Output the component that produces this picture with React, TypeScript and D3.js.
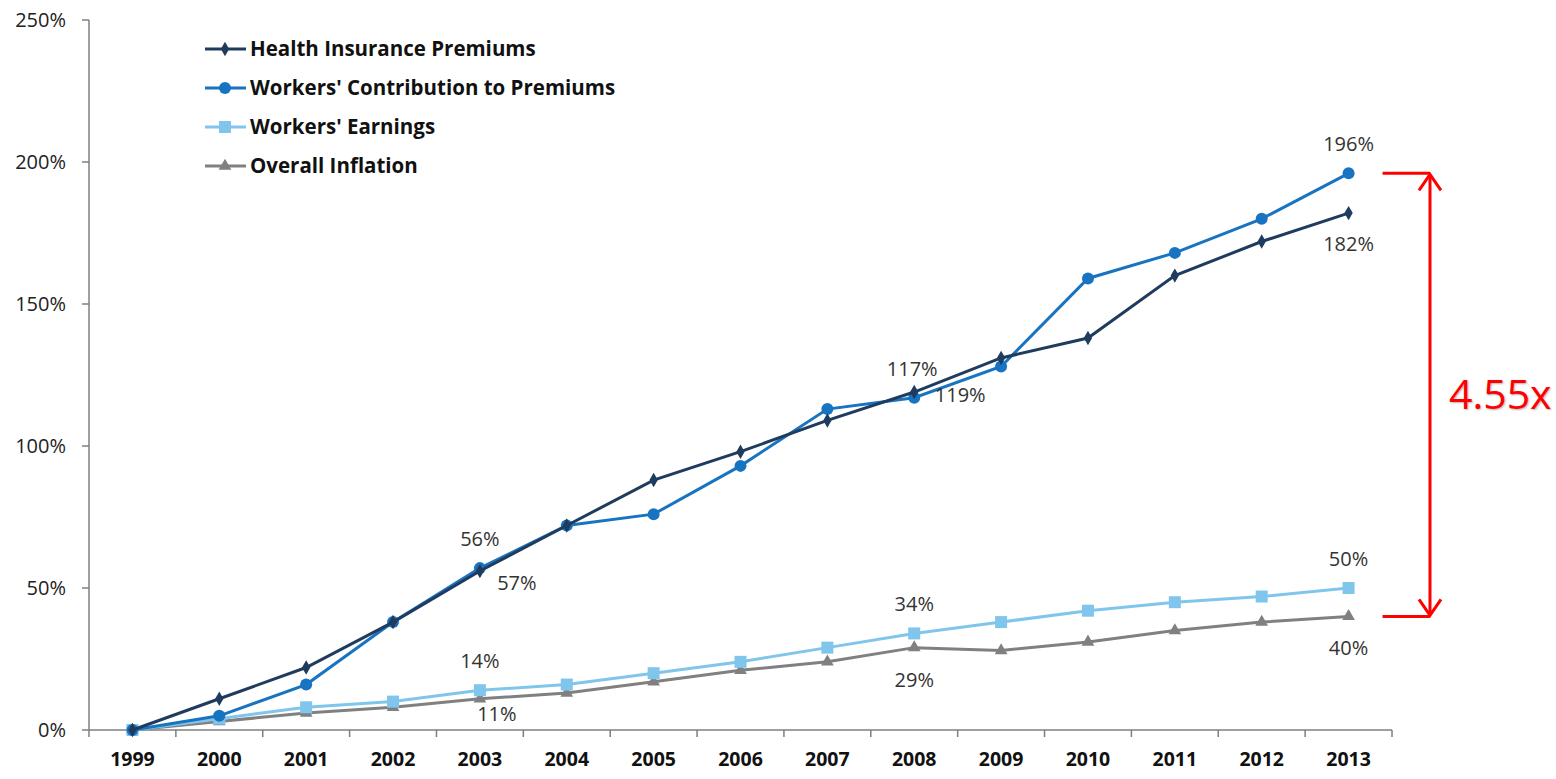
import * as d3 from 'd3';
import * as React from 'react';

const years = ['1999', '2000', '2001', '2002', '2003', '2004', '2005', '2006', '2007', '2008', '2009', '2010', '2011', '2012', '2013'];
const premiums = [0, 11, 22, 38, 56, 72, 88, 98, 109, 119, 131, 138, 160, 172, 182];
const contributions = [0, 5, 16, 38, 57, 72, 76, 93, 113, 117, 128, 159, 168, 180, 196];
const earnings = [0, 4, 8, 10, 14, 16, 20, 24, 29, 34, 38, 42, 45, 47, 50];
const inflation = [0, 3, 6, 8, 11, 13, 17, 21, 24, 29, 28, 31, 35, 38, 40];
const yTicks = [0, 50, 100, 150, 200, 250];

// which point gets a value label: [series, year, text, dx, dy]
const labels: [string, string, string, number, number][] = [
    ['contrib', '2013', '196%', 0, -22],
    ['prem', '2013', '182%', 0, 38],
    ['contrib', '2008', '117%', -2, -22],
    ['prem', '2008', '119%', 46, 10],
    ['contrib', '2003', '56%', 0, -22],
    ['contrib', '2003', '57%', 37, 22],
    ['earn', '2003', '14%', 0, -22],
    ['infl', '2003', '11%', 17, 22],
    ['earn', '2008', '34%', 0, -22],
    ['infl', '2008', '29%', 0, 39],
    ['earn', '2013', '50%', 0, -22],
    ['infl', '2013', '40%', 0, 39],
];

const series = [
    {key: 'prem', name: 'Health Insurance Premiums', values: premiums, color: '#1f3c5e', marker: 'diamond'},
    {key: 'contrib', name: "Workers' Contribution to Premiums", values: contributions, color: '#1874c1', marker: 'circle'},
    {key: 'earn', name: "Workers' Earnings", values: earnings, color: '#80c6ec', marker: 'square'},
    {key: 'infl', name: 'Overall Inflation', values: inflation, color: '#808080', marker: 'triangle'},
];

const width = 1556;
const height = 779;
const left = 89;
const right = 1392;
const top = 20;
const bottom = 730;
const font = '"Open Sans", sans-serif';

function Marker({type, x, y, color}: {type: string, x: number, y: number, color: string}) {
    if (type === 'circle') return <circle cx={x} cy={y} r={6} fill={color} />;
    if (type === 'square') return <rect x={x - 6} y={y - 6} width={12} height={12} fill={color} />;
    const sym = type === 'diamond' ? d3.symbolDiamond : d3.symbolTriangle;
    const size = type === 'diamond' ? 60 : 70;
    return <path transform={`translate(${x},${y})`} d={d3.symbol(sym, size)() || ''} fill={color} />;
}

export default function App() {
    const x = d3.scaleBand().domain(years).range([left, right]);
    const y = d3.scaleLinear().domain([0, 250]).range([bottom, top]);
    const cx = (yr: string) => (x(yr) || 0) + x.bandwidth() / 2;

    const line = d3.line<number>()
        .x((d, i) => cx(years[i]))
        .y((d) => y(d));

    const byKey: Record<string, number[]> = {};
    series.forEach((s) => { byKey[s.key] = s.values; });

    const last = years[years.length - 1];
    const topY = y(contributions[contributions.length - 1]);
    const botY = y(inflation[inflation.length - 1]);
    const arrowX = 1430;

    return (
        <svg width={width} height={height} style={{position: 'absolute', left: 0, top: 0}} fontFamily={font}>
            <rect width={width} height={height} fill='white' />
            {/* y axis */}
            <line x1={left} x2={left} y1={top} y2={bottom} stroke='#7f7f7f' strokeWidth={1.5} />
            {yTicks.map((t) => (
                <g key={t} transform={`translate(0,${y(t)})`}>
                    <line x1={left - 7} x2={left} stroke='#7f7f7f' strokeWidth={1.5} />
                    <text x={66} y={7} textAnchor='end' fontSize={20} fill='#222'>{t}%</text>
                </g>
            ))}
            {/* x axis */}
            <line x1={left} x2={right} y1={bottom} y2={bottom} stroke='#7f7f7f' strokeWidth={1.5} />
            {years.map((yr) => (
                <line key={'t' + yr} x1={x(yr)} x2={x(yr)} y1={bottom} y2={bottom + 7} stroke='#7f7f7f' strokeWidth={1.5} />
            ))}
            <line x1={right} x2={right} y1={bottom} y2={bottom + 7} stroke='#7f7f7f' strokeWidth={1.5} />
            {years.map((yr) => (
                <text key={yr} x={cx(yr)} y={766} textAnchor='middle' fontSize={19.5} fontWeight='bold' fill='#111'>{yr}</text>
            ))}
            {/* series */}
            {series.slice().reverse().map((s) => (
                <g key={s.key}>
                    <path d={line(s.values) || ''} fill='none' stroke={s.color} strokeWidth={3} />
                    {s.values.map((v, i) => (
                        <Marker key={i} type={s.marker} x={cx(years[i])} y={y(v)} color={s.color} />
                    ))}
                </g>
            ))}
            {/* value labels */}
            {labels.map(([k, yr, txt, dx, dy], i) => {
                const v = byKey[k][years.indexOf(yr)];
                return (
                    <text key={i} x={cx(yr) + dx} y={y(v) + dy} textAnchor='middle' fontSize={20} fill='#333'>{txt}</text>
                );
            })}
            {/* legend */}
            {series.map((s, i) => {
                const ly = 49 + i * 39;
                return (
                    <g key={'l' + s.key}>
                        <line x1={205} x2={246} y1={ly} y2={ly} stroke={s.color} strokeWidth={3} />
                        <Marker type={s.marker} x={225} y={ly} color={s.color} />
                        <text x={250} y={ly + 7} fontSize={20.5} fontWeight='bold' fill='#111'>{s.name}</text>
                    </g>
                );
            })}
            {/* ratio annotation */}
            <g stroke='#ff0000' strokeWidth={3} fill='none'>
                <line x1={cx(last) + 34} x2={arrowX} y1={topY} y2={topY} />
                <line x1={cx(last) + 34} x2={arrowX} y1={botY} y2={botY} />
                <line x1={arrowX} x2={arrowX} y1={topY + 2} y2={botY - 2} />
                <polyline points={`${arrowX - 11},${topY + 17} ${arrowX},${topY + 1} ${arrowX + 11},${topY + 17}`} />
                <polyline points={`${arrowX - 11},${botY - 17} ${arrowX},${botY - 1} ${arrowX + 11},${botY - 17}`} />
            </g>
            <text x={1449} y={(topY + botY) / 2 + 14} fontSize={41} fill='#ff0000' style={{textShadow: '1px 1px 2px rgba(0,0,0,0.3)'}}>4.55x</text>
        </svg>
    );
}
